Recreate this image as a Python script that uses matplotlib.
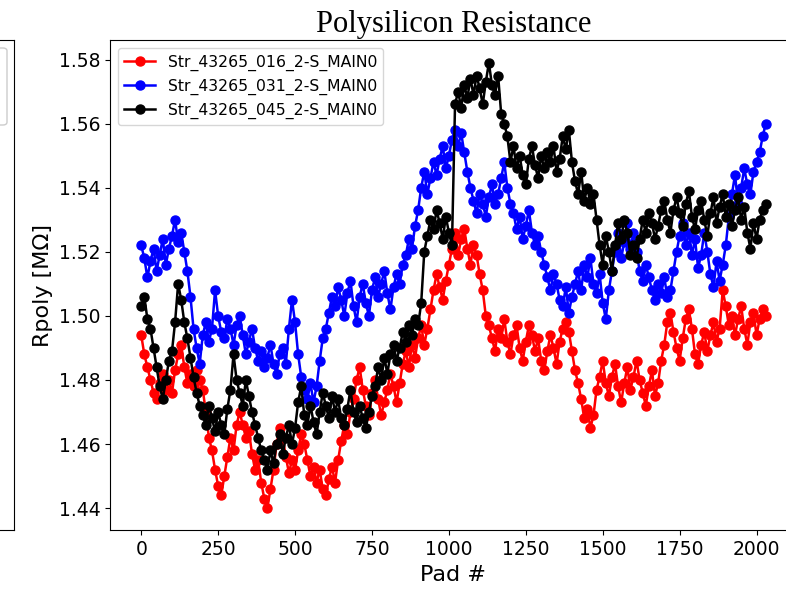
# Polysilicon resistance along the strip for three sensors
import numpy as np
import matplotlib.pyplot as plt
from matplotlib.patches import FancyBboxPatch

pads = list(range(0, 2031, 10))

labels = ["Str_43265_016_2-S_MAIN0", "Str_43265_031_2-S_MAIN0", "Str_43265_045_2-S_MAIN0"]
colors = ["red", "blue", "black"]

# Rpoly [MOhm], sensor 016
r016 = [
    1.494, 1.488, 1.484, 1.480, 1.476, 1.474, 1.479, 1.482, 1.477, 1.480,
    1.476, 1.483, 1.488, 1.491, 1.484, 1.479, 1.482, 1.478, 1.483, 1.480,
    1.477, 1.470, 1.462, 1.458, 1.452, 1.447, 1.444, 1.450, 1.456, 1.462,
    1.458, 1.466, 1.470, 1.466, 1.462, 1.464, 1.457, 1.452, 1.455, 1.448,
    1.443, 1.440, 1.446, 1.452, 1.460, 1.465, 1.462, 1.456, 1.451, 1.455,
    1.452, 1.458, 1.463, 1.460, 1.455, 1.450, 1.453, 1.448, 1.452, 1.446,
    1.444, 1.449, 1.453, 1.448, 1.455, 1.461, 1.466, 1.463, 1.470, 1.474,
    1.480, 1.484, 1.477, 1.472, 1.469, 1.476, 1.480, 1.474, 1.469, 1.473,
    1.477, 1.482, 1.478, 1.473, 1.479, 1.485, 1.489, 1.484, 1.491, 1.487,
    1.493, 1.497, 1.491, 1.496, 1.502, 1.508, 1.513, 1.509, 1.505, 1.511,
    1.516, 1.521, 1.526, 1.519, 1.524, 1.527, 1.521, 1.516, 1.522, 1.519,
    1.513, 1.508, 1.500, 1.497, 1.493, 1.489, 1.496, 1.493, 1.499, 1.492,
    1.488, 1.494, 1.497, 1.490, 1.486, 1.492, 1.497, 1.494, 1.489, 1.493,
    1.486, 1.483, 1.489, 1.494, 1.490, 1.485, 1.492, 1.496, 1.498, 1.495,
    1.489, 1.483, 1.479, 1.474, 1.468, 1.471, 1.465, 1.469, 1.477, 1.481,
    1.486, 1.479, 1.475, 1.481, 1.485, 1.478, 1.473, 1.479, 1.484, 1.477,
    1.481, 1.486, 1.480, 1.476, 1.472, 1.478, 1.483, 1.475, 1.479, 1.486,
    1.491, 1.498, 1.501, 1.495, 1.490, 1.486, 1.493, 1.499, 1.502, 1.496,
    1.488, 1.485, 1.491, 1.495, 1.489, 1.494, 1.498, 1.492, 1.496, 1.508,
    1.503, 1.497, 1.500, 1.494, 1.499, 1.503, 1.496, 1.491, 1.498, 1.501,
    1.494, 1.499, 1.502, 1.500,
]

# sensor 031
r031 = [
    1.522, 1.518, 1.512, 1.517, 1.521, 1.514, 1.519, 1.524, 1.516, 1.521,
    1.525, 1.530, 1.523, 1.526, 1.520, 1.514, 1.506, 1.496, 1.490, 1.485,
    1.494, 1.498, 1.492, 1.496, 1.508, 1.500, 1.495, 1.493, 1.499, 1.496,
    1.491, 1.497, 1.500, 1.494, 1.488, 1.492, 1.496, 1.490, 1.486, 1.489,
    1.484, 1.487, 1.491, 1.485, 1.482, 1.488, 1.490, 1.485, 1.496, 1.505,
    1.498, 1.488, 1.481, 1.477, 1.474, 1.479, 1.473, 1.478, 1.486, 1.493,
    1.496, 1.501, 1.506, 1.503, 1.509, 1.505, 1.500, 1.507, 1.511, 1.503,
    1.498, 1.506, 1.510, 1.504, 1.500, 1.508, 1.512, 1.506, 1.510, 1.514,
    1.507, 1.502, 1.509, 1.513, 1.510, 1.516, 1.519, 1.524, 1.521, 1.528,
    1.533, 1.540, 1.545, 1.538, 1.543, 1.548, 1.544, 1.549, 1.553, 1.546,
    1.550, 1.555, 1.558, 1.553, 1.557, 1.551, 1.545, 1.540, 1.536, 1.532,
    1.538, 1.535, 1.531, 1.537, 1.541, 1.535, 1.538, 1.543, 1.548, 1.540,
    1.535, 1.532, 1.527, 1.531, 1.524, 1.528, 1.533, 1.526, 1.522, 1.525,
    1.520, 1.516, 1.512, 1.508, 1.513, 1.510, 1.505, 1.503, 1.509, 1.501,
    1.506, 1.510, 1.514, 1.508, 1.516, 1.512, 1.518, 1.510, 1.507, 1.513,
    1.504, 1.499, 1.508, 1.514, 1.520, 1.526, 1.518, 1.523, 1.529, 1.521,
    1.526, 1.520, 1.514, 1.511, 1.516, 1.512, 1.508, 1.505, 1.510, 1.507,
    1.512, 1.506, 1.508, 1.514, 1.520, 1.525, 1.529, 1.522, 1.526, 1.519,
    1.524, 1.515, 1.519, 1.526, 1.520, 1.513, 1.509, 1.517, 1.511, 1.516,
    1.522, 1.531, 1.538, 1.544, 1.535, 1.540, 1.546, 1.541, 1.538, 1.545,
    1.548, 1.551, 1.556, 1.560,
]

# sensor 045
r045 = [
    1.503, 1.506, 1.499, 1.496, 1.490, 1.484, 1.478, 1.474, 1.480, 1.486,
    1.489, 1.498, 1.510, 1.505, 1.498, 1.493, 1.487, 1.481, 1.476, 1.472,
    1.469, 1.466, 1.472, 1.468, 1.464, 1.470, 1.466, 1.463, 1.471, 1.477,
    1.488, 1.480, 1.476, 1.472, 1.480, 1.475, 1.470, 1.466, 1.462, 1.458,
    1.455, 1.452, 1.458, 1.454, 1.460, 1.463, 1.457, 1.462, 1.466, 1.460,
    1.465, 1.473, 1.478, 1.469, 1.466, 1.472, 1.467, 1.463, 1.470, 1.476,
    1.472, 1.468, 1.475, 1.470, 1.474, 1.468, 1.466, 1.471, 1.477, 1.470,
    1.467, 1.472, 1.468, 1.465, 1.470, 1.475, 1.478, 1.484, 1.480, 1.487,
    1.482, 1.488, 1.491, 1.486, 1.490, 1.495, 1.492, 1.497, 1.494, 1.499,
    1.497, 1.504, 1.520, 1.525, 1.530, 1.527, 1.533, 1.529, 1.524, 1.531,
    1.526, 1.522, 1.566, 1.570, 1.565, 1.572, 1.568, 1.574, 1.569, 1.575,
    1.571, 1.566, 1.573, 1.579, 1.572, 1.569, 1.575, 1.563, 1.560, 1.556,
    1.548, 1.553, 1.546, 1.550, 1.544, 1.541, 1.549, 1.553, 1.547, 1.543,
    1.550, 1.546, 1.551, 1.548, 1.553, 1.545, 1.549, 1.556, 1.552, 1.558,
    1.548, 1.542, 1.538, 1.545, 1.536, 1.540, 1.535, 1.538, 1.530, 1.522,
    1.516, 1.525, 1.520, 1.514, 1.522, 1.529, 1.524, 1.530, 1.526, 1.519,
    1.522, 1.518, 1.524, 1.530, 1.526, 1.532, 1.529, 1.524, 1.528, 1.533,
    1.536, 1.530, 1.526, 1.533, 1.537, 1.532, 1.528, 1.535, 1.539, 1.531,
    1.527, 1.533, 1.536, 1.530, 1.525, 1.532, 1.537, 1.529, 1.534, 1.538,
    1.531, 1.535, 1.528, 1.533, 1.537, 1.530, 1.534, 1.526, 1.521, 1.529,
    1.524, 1.530, 1.533, 1.535,
]

fig = plt.figure(figsize=(7.86, 5.93), dpi=100)

# neighbouring panel, mostly cut off on the left (only its frame and legend edge show)
ax0 = fig.add_axes([-0.5, 0.1055, 0.5 + 13.5 / 786, 0.8263])
ax0.set_xticks([])
ax0.set_yticks([])
leg_box = FancyBboxPatch((-100 / 786, 1 - 125 / 593), 107 / 786, 77 / 593,
                         boxstyle="round,pad=0,rounding_size=0.005",
                         transform=fig.transFigure, facecolor="white",
                         edgecolor="0.8", linewidth=1)
fig.patches.append(leg_box)

ax = fig.add_axes([110 / 786, 0.1055, 687 / 786, 0.8263])
for y, c, lab in zip([r016, r031, r045], colors, labels):
    ax.plot(pads, y, "-o", color=c, label=lab, markersize=6.5, linewidth=1.8)

ax.set_title("Polysilicon Resistance", fontsize=22, family="Liberation Serif")
ax.set_xlabel("Pad #", fontsize=16)
ax.set_ylabel("Rpoly [M\u03a9]", fontsize=16)
ax.set_xticks([0, 250, 500, 750, 1000, 1250, 1500, 1750, 2000])
ax.tick_params(labelsize=13.5)
ax.legend(loc="upper left", fontsize=11.25)

plt.savefig("out.png", dpi=100)
